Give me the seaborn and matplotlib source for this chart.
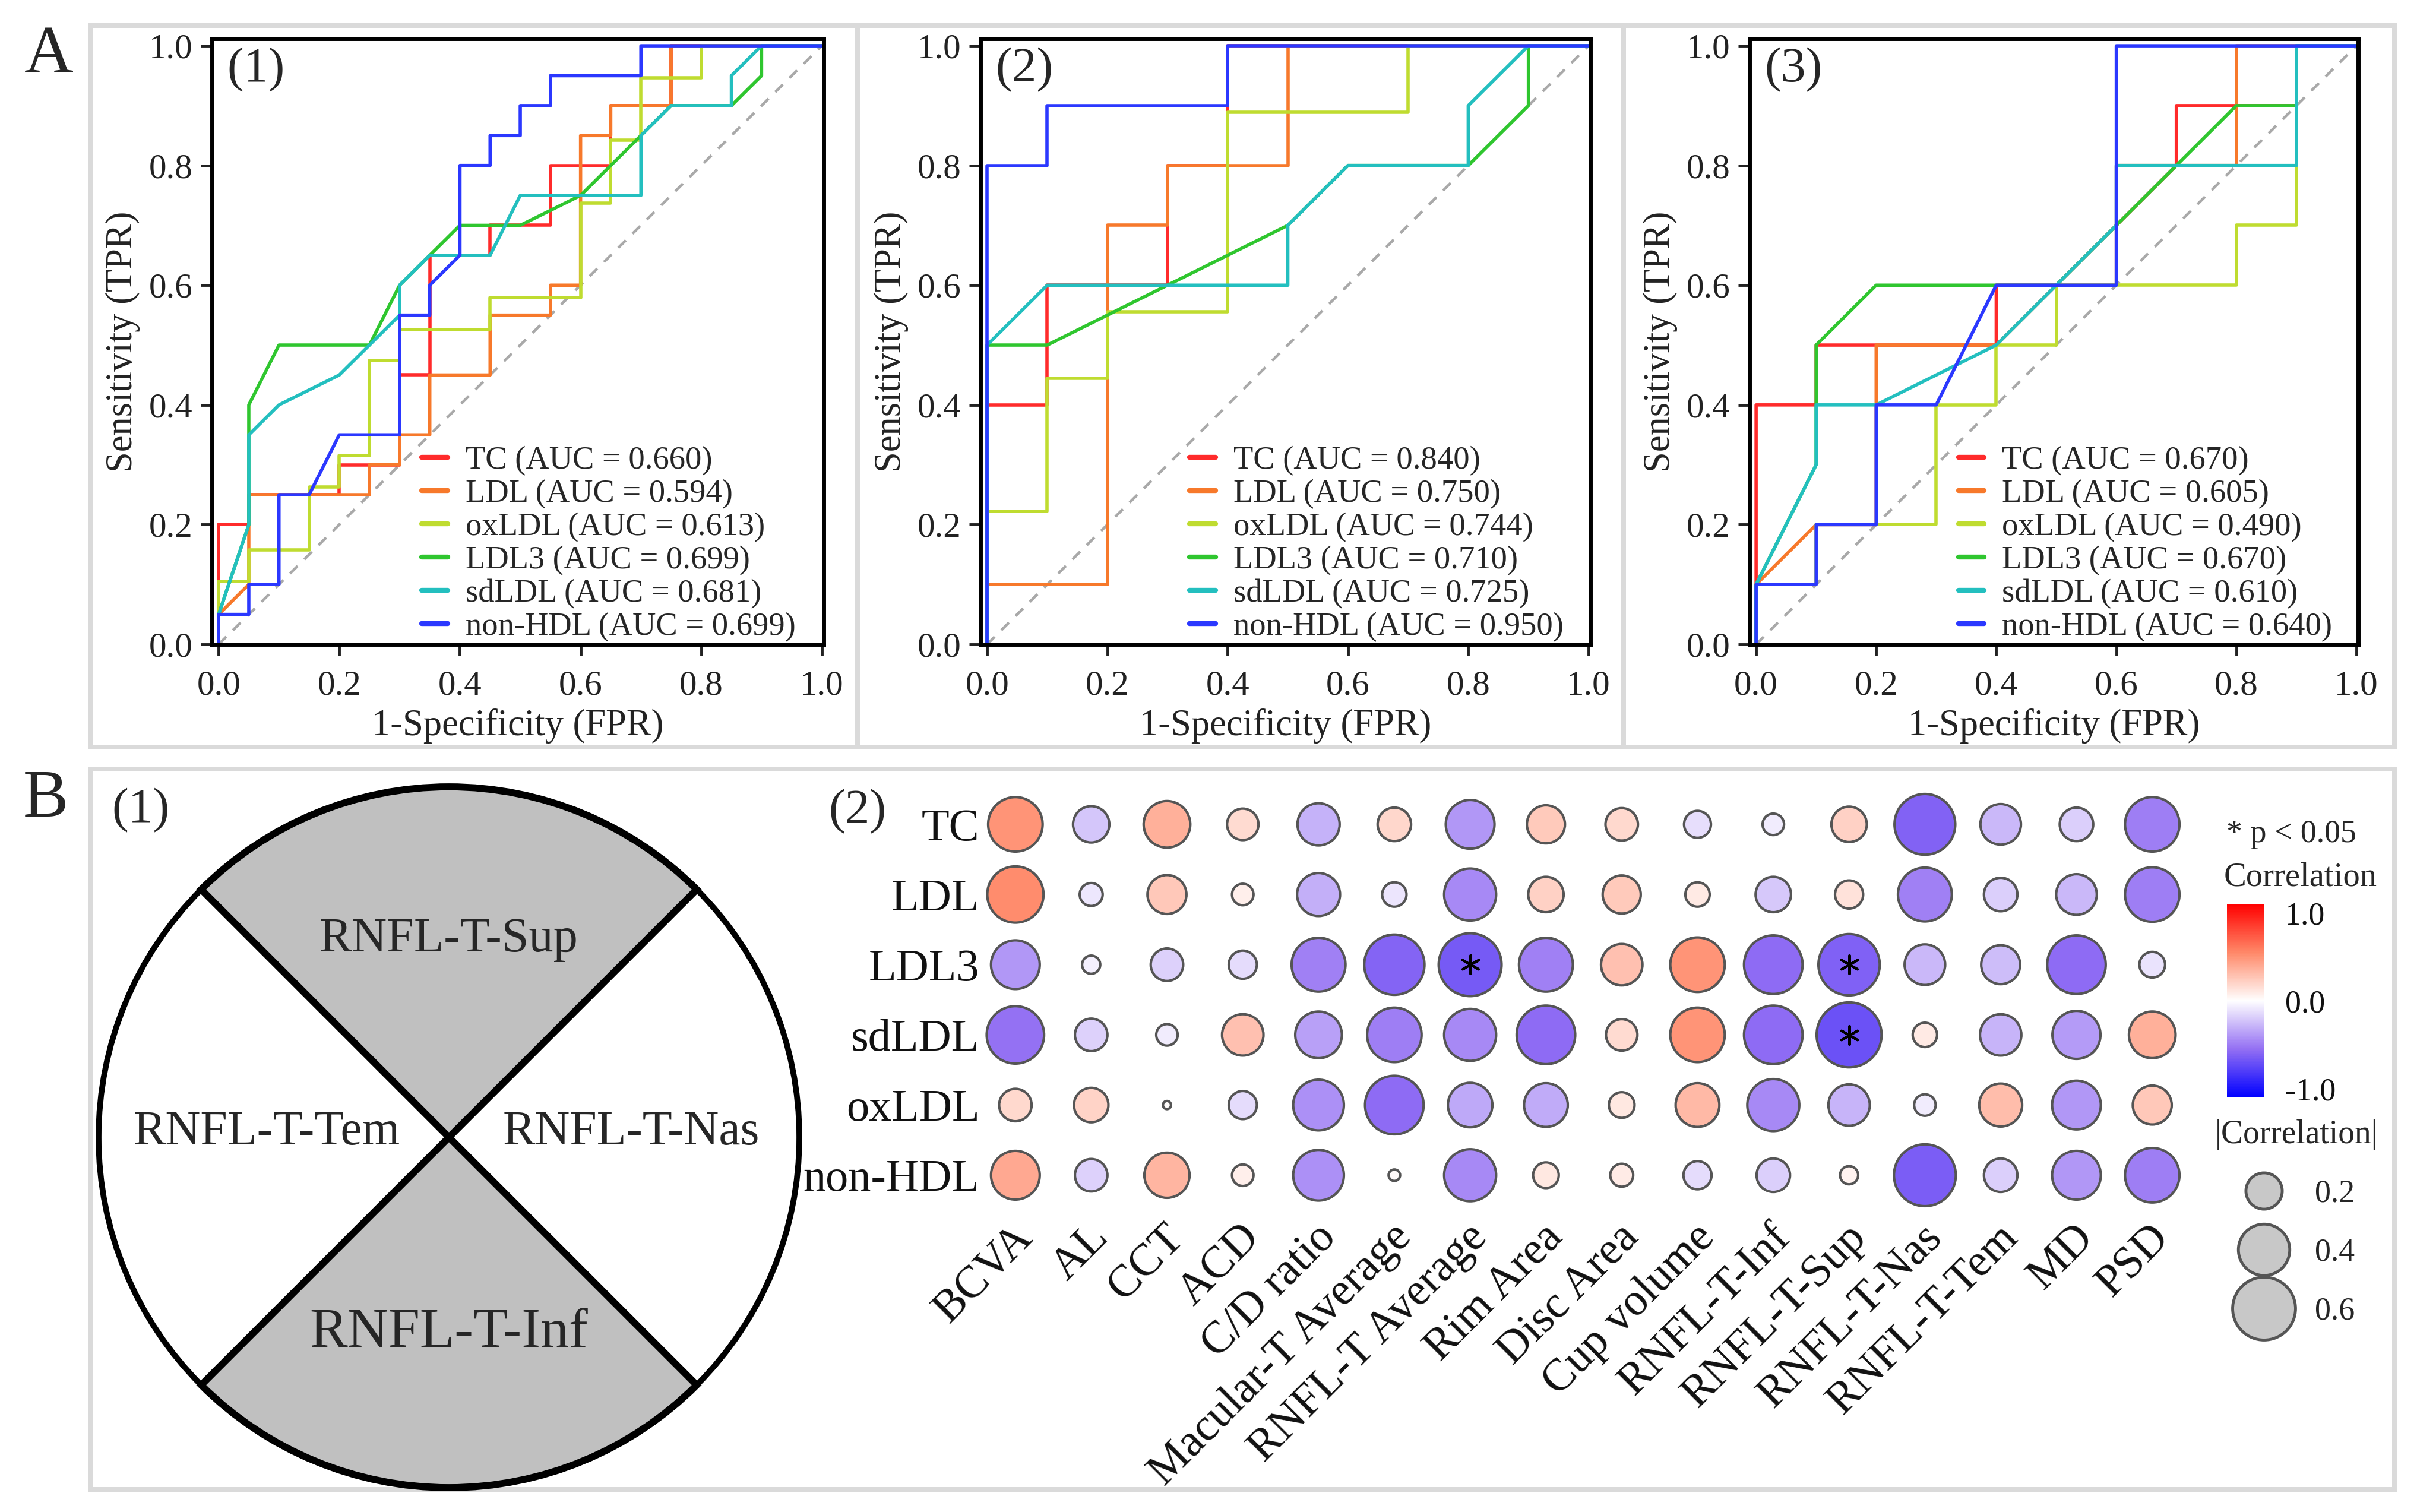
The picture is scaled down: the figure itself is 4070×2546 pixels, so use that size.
import numpy as np
import pandas as pd
import matplotlib
matplotlib.use("Agg")
import matplotlib.pyplot as plt
import seaborn as sns
from matplotlib.colors import LinearSegmentedColormap, Normalize
from matplotlib.patches import Rectangle, Wedge, Circle
from matplotlib.lines import Line2D
from matplotlib.cm import ScalarMappable
from matplotlib.ticker import FormatStrFormatter
from matplotlib.transforms import ScaledTranslation

# ---------------- DATA ----------------
markers = ["TC", "LDL", "oxLDL", "LDL3", "sdLDL", "non-HDL"]
marker_colors = ["#ff2b2b", "#f7792b", "#bfdc30", "#2fc62f", "#23bfbf", "#2b38ff"]

auc_1 = [0.660, 0.594, 0.613, 0.699, 0.681, 0.699]
auc_2 = [0.840, 0.750, 0.744, 0.710, 0.725, 0.950]
auc_3 = [0.670, 0.605, 0.490, 0.670, 0.610, 0.640]

# ROC vertices (fpr, tpr) -- panel (1)
roc1_tc = [(0, 0), (0, .2), (.05, .2), (.05, .25), (.2, .25), (.2, .3), (.3, .3), (.3, .45), (.35, .45),
           (.35, .65), (.45, .65), (.45, .7), (.55, .7), (.55, .8), (.65, .8), (.65, .9), (.75, .9), (.75, 1), (1, 1)]
roc1_ldl = [(0, 0), (0, .05), (.05, .1), (.05, .25), (.25, .25), (.25, .3), (.3, .3), (.3, .35), (.35, .35),
            (.35, .45), (.45, .45), (.45, .55), (.55, .55), (.55, .6), (.6, .6), (.6, .85), (.65, .85), (.65, .9),
            (.75, .9), (.75, 1), (1, 1)]
roc1_oxldl = [(0, 0), (0, .105), (.05, .105), (.05, .158), (.15, .158), (.15, .263), (.2, .263), (.2, .316),
              (.25, .316), (.25, .474), (.3, .474), (.3, .526), (.45, .526), (.45, .579), (.6, .579), (.6, .737),
              (.65, .737), (.65, .842), (.7, .842), (.7, .947), (.8, .947), (.8, 1), (1, 1)]
roc1_ldl3 = [(0, 0), (0, .05), (.05, .2), (.05, .4), (.1, .5), (.25, .5), (.3, .6), (.4, .7), (.5, .7), (.6, .75),
             (.75, .9), (.85, .9), (.9, .95), (.9, 1), (1, 1)]
roc1_sdldl = [(0, 0), (0, .05), (.05, .2), (.05, .35), (.1, .4), (.2, .45), (.25, .5), (.3, .55), (.3, .6),
              (.35, .65), (.45, .65), (.5, .75), (.7, .75), (.7, .85), (.75, .9), (.85, .9), (.85, .95), (.9, 1), (1, 1)]
roc1_nonhdl = [(0, 0), (0, .05), (.05, .05), (.05, .1), (.1, .1), (.1, .25), (.15, .25), (.2, .35), (.3, .35),
               (.3, .55), (.35, .55), (.35, .6), (.4, .65), (.4, .8), (.45, .8), (.45, .85), (.5, .85), (.5, .9),
               (.55, .9), (.55, .95), (.7, .95), (.7, 1), (1, 1)]

# panel (2)
roc2_tc = [(0, 0), (0, .4), (.1, .4), (.1, .6), (.3, .6), (.3, .8), (.4, .8), (.4, 1), (1, 1)]
roc2_ldl = [(0, 0), (0, .1), (.2, .1), (.2, .7), (.3, .7), (.3, .8), (.5, .8), (.5, 1), (1, 1)]
roc2_oxldl = [(0, 0), (0, .222), (.1, .222), (.1, .444), (.2, .444), (.2, .556), (.4, .556), (.4, .889),
              (.7, .889), (.7, 1), (1, 1)]
roc2_ldl3 = [(0, 0), (0, .5), (.1, .5), (.5, .7), (.6, .8), (.8, .8), (.9, .9), (.9, 1), (1, 1)]
roc2_sdldl = [(0, 0), (0, .5), (.1, .6), (.5, .6), (.5, .7), (.6, .8), (.8, .8), (.8, .9), (.9, 1), (1, 1)]
roc2_nonhdl = [(0, 0), (0, .8), (.1, .8), (.1, .9), (.4, .9), (.4, 1), (1, 1)]

# panel (3)
roc3_tc = [(0, 0), (0, .4), (.1, .4), (.1, .5), (.4, .5), (.4, .6), (.5, .6), (.6, .7), (.7, .8), (.7, .9),
           (.9, .9), (.9, 1), (1, 1)]
roc3_ldl = [(0, 0), (0, .1), (.1, .2), (.2, .2), (.2, .5), (.4, .5), (.5, .6), (.6, .6), (.6, .8), (.8, .8),
            (.8, 1), (1, 1)]
roc3_oxldl = [(0, 0), (0, .1), (.1, .1), (.1, .2), (.3, .2), (.3, .4), (.4, .4), (.4, .5), (.5, .5), (.5, .6),
              (.8, .6), (.8, .7), (.9, .7), (.9, 1), (1, 1)]
roc3_ldl3 = [(0, 0), (0, .1), (.1, .3), (.1, .5), (.2, .6), (.5, .6), (.8, .9), (.9, .9), (.9, 1), (1, 1)]
roc3_sdldl = [(0, 0), (0, .1), (.1, .3), (.1, .4), (.2, .4), (.4, .5), (.5, .6), (.6, .7), (.6, .8), (.9, .8),
              (.9, 1), (1, 1)]
roc3_nonhdl = [(0, 0), (0, .1), (.1, .1), (.1, .2), (.2, .2), (.2, .4), (.3, .4), (.4, .6), (.6, .6), (.6, 1), (1, 1)]

# correlation matrix (B2)
corr_rows = ["TC", "LDL", "LDL3", "sdLDL", "oxLDL", "non-HDL"]
corr_cols = ["BCVA", "AL", "CCT", "ACD", "C/D ratio", "Macular-T Average", "RNFL-T Average", "Rim Area",
             "Disc Area", "Cup volume", "RNFL-T-Inf", "RNFL-T-Sup", "RNFL-T-Nas", "RNFL-T-Tem", "MD", "PSD"]
r_tc = [0.45, -0.20, 0.33, 0.15, -0.27, 0.17, -0.36, 0.22, 0.16, -0.11, -0.07, 0.19, -0.56, -0.25, -0.17, -0.45]
r_ldl = [0.48, -0.08, 0.23, 0.07, -0.28, -0.09, -0.41, 0.19, 0.22, 0.09, -0.19, 0.12, -0.44, -0.17, -0.25, -0.45]
r_ldl3 = [-0.36, -0.05, -0.16, -0.12, -0.44, -0.55, -0.60, -0.44, 0.26, 0.45, -0.52, -0.57, -0.25, -0.23, -0.52, -0.10]
r_sdldl = [-0.50, -0.16, -0.07, 0.26, -0.33, -0.45, -0.41, -0.52, 0.15, 0.45, -0.52, -0.64, 0.09, -0.26, -0.35, 0.33]
r_oxldl = [0.16, 0.18, 0.01, -0.12, -0.39, -0.52, -0.30, -0.29, 0.10, 0.29, -0.41, -0.26, -0.07, 0.28, -0.36, 0.23]
r_nonhdl = [0.36, -0.16, 0.31, 0.07, -0.39, 0.02, -0.41, 0.10, 0.08, -0.12, -0.17, 0.05, -0.58, -0.17, -0.36, -0.45]
significant = [("LDL3", "RNFL-T Average"), ("LDL3", "RNFL-T-Sup"), ("sdLDL", "RNFL-T-Sup")]
size_key = [0.2, 0.4, 0.6]

eye_sectors = ["RNFL-T-Sup", "RNFL-T-Tem", "RNFL-T-Nas", "RNFL-T-Inf"]

# ---------------- STYLE / LAYOUT ----------------
W, H, DPI = 4070, 2546, 250
sns.set_theme(style="ticks")
plt.rcParams["font.family"] = ["Liberation Serif", "DejaVu Serif"]
plt.rcParams["axes.unicode_minus"] = False

fig = plt.figure(figsize=(W / DPI, H / DPI), dpi=DPI)
fig.patch.set_facecolor("white")


def px_axes(x0, y0, x1, y1):
    # pixel box (top-left origin) -> figure axes
    return fig.add_axes([x0 / W, 1 - y1 / H, (x1 - x0) / W, (y1 - y0) / H])


def px_rect(x0, y0, x1, y1):
    r = Rectangle((x0 / W, 1 - y1 / H), (x1 - x0) / W, (y1 - y0) / H, transform=fig.transFigure,
                  fill=False, edgecolor="#dadada", linewidth=2.3, zorder=0)
    fig.add_artist(r)


# panel frames
px_rect(153, 43, 1444, 1258)
px_rect(1444, 43, 2734, 1258)
px_rect(2734, 43, 4032, 1258)
px_rect(153, 1295, 4032, 2508)

fig.text(82 / W, 1 - 122 / H, "A", fontsize=33, ha="center", va="baseline")
fig.text(77 / W, 1 - 1375 / H, "B", fontsize=33, ha="center", va="baseline")

# ---------------- A: ROC curves ----------------
palette = dict(zip(markers, marker_colors))


def roc_frame(curves):
    recs = []
    for name, pts in zip(markers, curves):
        for f, t in pts:
            recs.append({"marker": name, "fpr": f, "tpr": t})
    return pd.DataFrame(recs)


roc_panels = [
    ("(1)", [roc1_tc, roc1_ldl, roc1_oxldl, roc1_ldl3, roc1_sdldl, roc1_nonhdl], auc_1, (357, 65, 1387, 1085)),
    ("(2)", [roc2_tc, roc2_ldl, roc2_oxldl, roc2_ldl3, roc2_sdldl, roc2_nonhdl], auc_2, (1651, 65, 2678, 1085)),
    ("(3)", [roc3_tc, roc3_ldl, roc3_oxldl, roc3_ldl3, roc3_sdldl, roc3_nonhdl], auc_3, (2946, 65, 3971, 1085)),
]

for tag, curves, aucs, box in roc_panels:
    ax = px_axes(*box)
    ax.plot([0, 1], [0, 1], color="#a9a9a9", lw=1.3, ls=(0, (4, 3.5)), zorder=1)
    sns.lineplot(data=roc_frame(curves), x="fpr", y="tpr", hue="marker", hue_order=markers,
                 palette=palette, sort=False, estimator=None, lw=1.6, legend=False, ax=ax, zorder=2)
    ax.set_xlim(-0.011, 1.003)
    ax.set_ylim(0, 1.012)
    ticks = np.arange(0, 1.01, 0.2)
    ax.set_xticks(ticks)
    ax.set_yticks(ticks)
    ax.xaxis.set_major_formatter(FormatStrFormatter("%.1f"))
    ax.yaxis.set_major_formatter(FormatStrFormatter("%.1f"))
    ax.tick_params(direction="out", length=5.5, width=1.4, labelsize=17, pad=4, colors="#222222")
    ax.tick_params(axis="x", pad=7)
    for s in ax.spines.values():
        s.set_linewidth(2.0)
        s.set_color("black")
    ax.set_xlabel("1-Specificity (FPR)", fontsize=18, labelpad=3, color="#222222")
    ax.set_ylabel("Sensitivity (TPR)", fontsize=18, labelpad=4, color="#222222")
    ax.text(0.025, 0.985, tag, transform=ax.transAxes, fontsize=24, ha="left", va="top")
    handles = [Line2D([0], [0], color=palette[m], lw=2.4) for m in markers]
    labels = [f"{m} (AUC = {a:.3f})" for m, a in zip(markers, aucs)]
    ax.legend(handles, labels, loc="lower left", bbox_to_anchor=(0.343, 0.004), frameon=False,
              fontsize=15.7, labelspacing=0.1, handlelength=0.8, handletextpad=0.55,
              borderaxespad=0, borderpad=0)

# ---------------- B1: RNFL sector diagram ----------------
cx, cy, rad = 756, 1915, 590
ax_eye = px_axes(160, 1300, 1440, 2546)
ax_eye.set_xlim((160 - cx) / rad, (1440 - cx) / rad)
ax_eye.set_ylim((cy - 2546) / rad, (cy - 1300) / rad)
ax_eye.axis("off")
for t1, t2 in [(45, 135), (225, 315)]:
    ax_eye.add_patch(Wedge((0, 0), 1, t1, t2, facecolor="#c0c0c0", edgecolor="black", lw=3.4, clip_on=False))
ax_eye.add_patch(Circle((0, 0), 1, fill=False, edgecolor="black", lw=2.8, clip_on=False))
ax_eye.text(0, 0.53, eye_sectors[0], fontsize=23.7, ha="center", va="baseline")
ax_eye.text(-0.52, -0.02, eye_sectors[1], fontsize=23.5, ha="center", va="baseline")
ax_eye.text(0.52, -0.02, eye_sectors[2], fontsize=23.5, ha="center", va="baseline")
ax_eye.text(0, -0.60, eye_sectors[3], fontsize=27.5, ha="center", va="baseline")
fig.text(188 / W, 1 - 1365 / H, "(1)", fontsize=24, ha="left", va="center")

# ---------------- B2: correlation bubbles ----------------
corr_vals = [r_tc, r_ldl, r_ldl3, r_sdldl, r_oxldl, r_nonhdl]
recs = []
for rname, vals in zip(corr_rows, corr_vals):
    for cname, v in zip(corr_cols, vals):
        recs.append({"row": rname, "col": cname, "r": v, "absr": abs(v),
                     "sig": (rname, cname) in significant})
corr_df = pd.DataFrame(recs)

cmap = LinearSegmentedColormap.from_list("corr", ["#0000ff", "#9470f3", "#ffffff", "#ff8868", "#ff0000"])
K = 1550  # marker area (pt^2) for |r| = 1

axb = px_axes(1646, 1329, 3688, 2038)
sns.scatterplot(data=corr_df, x="col", y="row", hue="r", size="absr", palette=cmap, hue_norm=(-1, 1),
                sizes=(0, K), size_norm=(0, 1), edgecolor="#555555", linewidth=1.2, legend=False, ax=axb)
sig_df = corr_df[corr_df["sig"]]
axb.scatter(sig_df["col"], sig_df["row"], marker=(6, 2, 0), s=80, color="black", linewidths=1.2, zorder=5)
axb.set_xlim(-0.5, 15.5)
axb.set_ylim(5.5, -0.5)
for s in axb.spines.values():
    s.set_visible(False)
axb.set_xlabel("")
axb.set_ylabel("")
axb.set_xticks(range(len(corr_cols)))
axb.set_xticklabels(corr_cols, rotation=45, ha="right", va="center", rotation_mode="anchor", fontsize=22)
axb.set_yticks(range(len(corr_rows)))
axb.set_yticklabels(corr_rows, fontsize=22)
axb.tick_params(axis="x", length=0, pad=10, colors="#111111")
axb.tick_params(axis="y", length=0, pad=-1, colors="#111111")
shift = ScaledTranslation(18 / DPI, 0, fig.dpi_scale_trans)
for lbl in axb.get_xticklabels():
    lbl.set_transform(lbl.get_transform() + shift)
fig.text(1395 / W, 1 - 1367 / H, "(2)", fontsize=24, ha="left", va="center")

# colour bar
fig.text(3749 / W, 1 - 1405 / H, "* p < 0.05", fontsize=15.5, ha="left", va="center")
fig.text(3745 / W, 1 - 1478 / H, "Correlation", fontsize=16.3, ha="left", va="center")
cax = px_axes(3750, 1522, 3813, 1848)
cb = fig.colorbar(ScalarMappable(norm=Normalize(-1.1, 1.1), cmap=cmap), cax=cax,
                  ticks=[-1, -0.5, 0, 0.5, 1])
cb.ax.set_yticklabels(["-1.0", "", "0.0", "", "1.0"])
cb.outline.set_visible(False)
cax.tick_params(direction="in", color="white", length=5, width=1.2, labelsize=15.5, pad=10,
                left=True, right=True, labelcolor="#111111")

# size key
key_handles = [Line2D([0], [0], marker="o", ls="", markersize=np.sqrt(K * v), markerfacecolor="#c8c8c8",
                      markeredgecolor="#555555", markeredgewidth=1.4) for v in size_key]
fig.legend(key_handles, [f"{v:.1f}" for v in size_key], title="|Correlation|", title_fontsize=16,
           fontsize=15.5, loc="upper left", bbox_to_anchor=(3730 / W, 1 - 1885 / H), frameon=False,
           labelspacing=0.9, handletextpad=0.8, handlelength=1.6, borderpad=0, borderaxespad=0)

fig.savefig("out.png", dpi=DPI, facecolor="white")
